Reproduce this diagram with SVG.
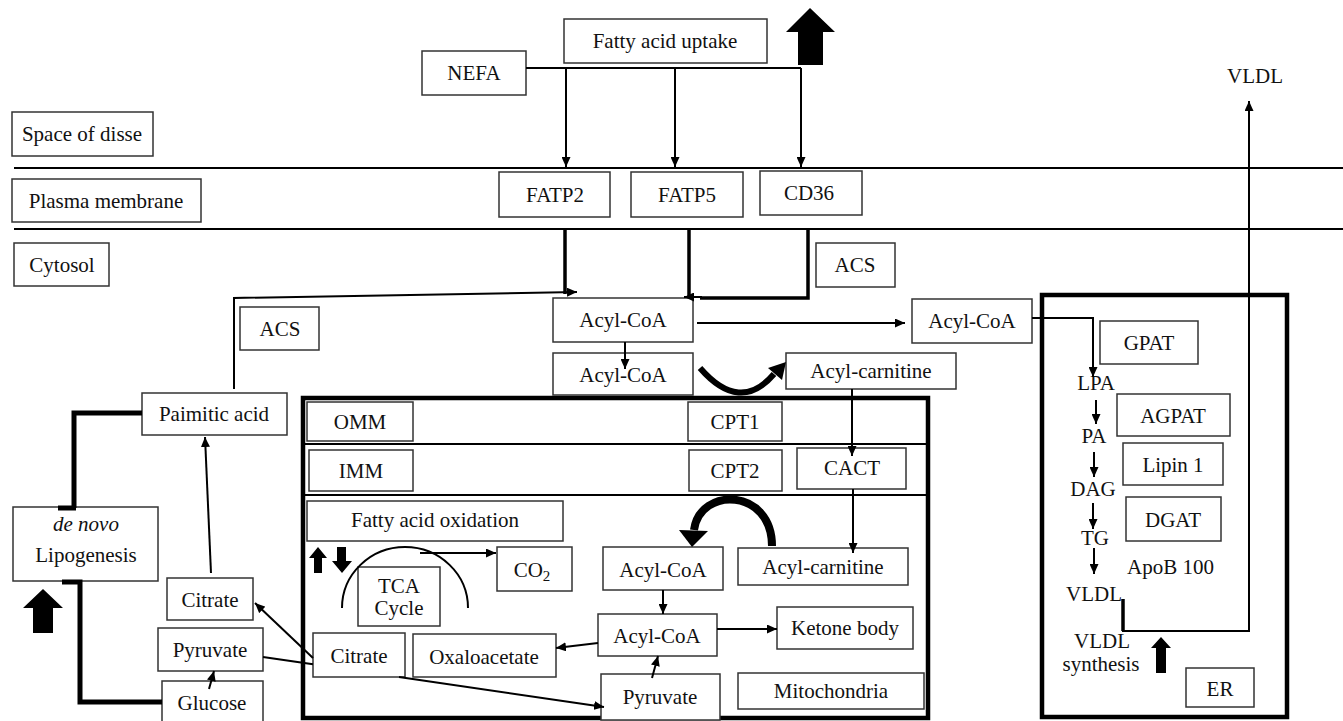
<svg xmlns="http://www.w3.org/2000/svg" width="1343" height="721" viewBox="0 0 1343 721">
<style>
.b{fill:#fff;stroke:#333;stroke-width:1.5}
.t{font-size:21px;fill:#111;text-anchor:middle}
.l{font-size:21px;fill:#111}
.c{fill:none;stroke:#000;stroke-width:2}
.k{fill:none;stroke:#000;stroke-width:3.5}
.h{fill:none;stroke:#000;stroke-width:5}
.f{fill:#000}
</style>
<defs>
<marker id="a" markerUnits="userSpaceOnUse" markerWidth="10" markerHeight="9" refX="10" refY="4.5" orient="auto"><path d="M0,0 L10,4.5 L0,9 z" fill="#000"/></marker>
</defs>
<rect width="1343" height="721" fill="#fff"/>
<g id="membranes">
<line x1="14" y1="168" x2="1343" y2="168" stroke="#000" stroke-width="2"/>
<line x1="14" y1="229" x2="1343" y2="229" stroke="#000" stroke-width="2"/>
</g>
<g id="mitochondria-frame">
<rect x="303" y="398" width="625" height="320" fill="none" stroke="#000" stroke-width="4.5"/>
<line x1="303" y1="444" x2="928" y2="444" stroke="#000" stroke-width="2"/>
<line x1="303" y1="495" x2="928" y2="495" stroke="#000" stroke-width="2"/>
</g>
<g id="er-frame">
<rect x="1042" y="295" width="245" height="422" fill="none" stroke="#000" stroke-width="4.5"/>
</g>
<g id="nodes" font-family="Liberation Serif, Times New Roman, serif">
<g id="space-of-disse"><rect class="b" x="12" y="112" width="141" height="44"/><text class="t" x="82" y="141">Space of disse</text></g>
<g id="plasma-membrane"><rect class="b" x="12" y="179" width="189" height="43"/><text class="t" x="106" y="208">Plasma membrane</text></g>
<g id="cytosol"><rect class="b" x="14" y="243" width="95" height="43"/><text class="t" x="62" y="272">Cytosol</text></g>
<g id="nefa"><rect class="b" x="422" y="51" width="104" height="44"/><text class="t" x="474" y="80">NEFA</text></g>
<g id="fatty-acid-uptake"><rect class="b" x="564" y="19" width="203" height="44"/><text class="t" x="665" y="48">Fatty acid uptake</text></g>
<g id="fatp2"><rect class="b" x="499" y="172" width="111" height="45"/><text class="t" x="555" y="202">FATP2</text></g>
<g id="fatp5"><rect class="b" x="631" y="172" width="112" height="45"/><text class="t" x="687" y="202">FATP5</text></g>
<g id="cd36"><rect class="b" x="760" y="171" width="102" height="44"/><text class="t" x="809" y="200">CD36</text></g>
<g id="acs-top"><rect class="b" x="816" y="243" width="79" height="44"/><text class="t" x="855" y="272">ACS</text></g>
<g id="acs-left"><rect class="b" x="240" y="307" width="79" height="43"/><text class="t" x="280" y="336">ACS</text></g>
<g id="acyl-coa-1"><rect class="b" x="553" y="298" width="140" height="44"/><text class="t" x="623" y="327">Acyl-CoA</text></g>
<g id="acyl-coa-2"><rect class="b" x="553" y="353" width="140" height="42"/><text class="t" x="623" y="382">Acyl-CoA</text></g>
<g id="acyl-coa-er"><rect class="b" x="912" y="299" width="120" height="44"/><text class="t" x="972" y="328">Acyl-CoA</text></g>
<g id="acyl-carnitine-top"><rect class="b" x="786" y="353" width="170" height="36"/><text class="t" x="871" y="378">Acyl-carnitine</text></g>
<g id="paimitic-acid"><rect class="b" x="142" y="393" width="145" height="42"/><text class="t" x="214" y="421">Paimitic acid</text></g>
<g id="omm"><rect class="b" x="307" y="402" width="106" height="39"/><text class="t" x="360" y="429">OMM</text></g>
<g id="cpt1"><rect class="b" x="688" y="402" width="94" height="39"/><text class="t" x="735" y="429">CPT1</text></g>
<g id="imm"><rect class="b" x="309" y="450" width="104" height="41"/><text class="t" x="361" y="478">IMM</text></g>
<g id="cpt2"><rect class="b" x="689" y="450" width="93" height="41"/><text class="t" x="735" y="478">CPT2</text></g>
<g id="cact"><rect class="b" x="797" y="448" width="109" height="41"/><text class="t" x="852" y="475">CACT</text></g>
<g id="fatty-acid-oxidation"><rect class="b" x="307" y="501" width="256" height="40"/><text class="t" x="435" y="527">Fatty acid oxidation</text></g>
<g id="tca-cycle"><rect class="b" x="358" y="567" width="82" height="59"/><text class="t" x="399" y="593">TCA</text><text class="t" x="399" y="615">Cycle</text></g>
<g id="co2"><rect class="b" x="497" y="547" width="75" height="44"/><text class="t" x="532" y="577">CO<tspan font-size="15" dy="4">2</tspan></text></g>
<g id="acyl-coa-mito"><rect class="b" x="603" y="547" width="120" height="43"/><text class="t" x="663" y="577">Acyl-CoA</text></g>
<g id="acyl-carnitine-mito"><rect class="b" x="738" y="548" width="170" height="37"/><text class="t" x="823" y="574">Acyl-carnitine</text></g>
<g id="acyl-coa-mid"><rect class="b" x="598" y="614" width="119" height="42"/><text class="t" x="657" y="643">Acyl-CoA</text></g>
<g id="ketone-body"><rect class="b" x="777" y="607" width="136" height="42"/><text class="t" x="845" y="635">Ketone body</text></g>
<g id="oxaloacetate"><rect class="b" x="413" y="634" width="143" height="43"/><text class="t" x="484" y="664">Oxaloacetate</text></g>
<g id="citrate-mito"><rect class="b" x="313" y="633" width="92" height="44"/><text class="t" x="359" y="663">Citrate</text></g>
<g id="pyruvate-mito"><rect class="b" x="601" y="674" width="119" height="46"/><text class="t" x="660" y="704">Pyruvate</text></g>
<g id="mitochondria"><rect class="b" x="738" y="673" width="186" height="36"/><text class="t" x="831" y="698">Mitochondria</text></g>
<g id="de-novo-lipogenesis"><rect class="b" x="13" y="507" width="145" height="74"/><text class="t" x="86" y="531" font-style="italic">de novo</text><text class="t" x="86" y="562">Lipogenesis</text></g>
<g id="citrate-left"><rect class="b" x="167" y="578" width="86" height="42"/><text class="t" x="210" y="607">Citrate</text></g>
<g id="pyruvate-left"><rect class="b" x="158" y="628" width="105" height="43"/><text class="t" x="210" y="657">Pyruvate</text></g>
<g id="glucose"><rect class="b" x="162" y="681" width="101" height="42"/><text class="t" x="212" y="710">Glucose</text></g>
<g id="gpat"><rect class="b" x="1100" y="321" width="98" height="43"/><text class="t" x="1149" y="350">GPAT</text></g>
<g id="agpat"><rect class="b" x="1117" y="394" width="113" height="42"/><text class="t" x="1173" y="423">AGPAT</text></g>
<g id="lipin1"><rect class="b" x="1123" y="443" width="100" height="42"/><text class="t" x="1173" y="472">Lipin 1</text></g>
<g id="dgat"><rect class="b" x="1126" y="497" width="95" height="44"/><text class="t" x="1173" y="527">DGAT</text></g>
<g id="er"><rect class="b" x="1186" y="668" width="68" height="39"/><text class="t" x="1220" y="696">ER</text></g>
<g id="lpa"><text class="t" x="1096" y="390">LPA</text></g>
<g id="pa"><text class="t" x="1094" y="443">PA</text></g>
<g id="dag"><text class="t" x="1093" y="496">DAG</text></g>
<g id="tg"><text class="t" x="1095" y="545">TG</text></g>
<g id="apob100"><text class="l" x="1127" y="574">ApoB 100</text></g>
<g id="vldl-er"><text class="l" x="1066" y="601">VLDL</text></g>
<g id="vldl-synthesis"><text class="t" x="1102" y="648">VLDL</text><text class="t" x="1101" y="671">synthesis</text></g>
<g id="vldl-top"><text class="t" x="1255" y="83">VLDL</text></g>
</g>
<g id="connectors">
<path class="c" d="M526 68 H801"/>
<path class="c" d="M566 68 V167" marker-end="url(#a)"/>
<path class="c" d="M675 68 V167" marker-end="url(#a)"/>
<path class="c" d="M801 68 V167" marker-end="url(#a)"/>
<path class="k" d="M565 229 V294"/>
<path class="k" d="M689 229 V296"/>
<path class="k" d="M808 229 V298 H700"/>
<path class="c" d="M702 297 H684" marker-end="url(#a)"/>
<path class="c" d="M234 389 V298 L577 292" marker-end="url(#a)"/>
<path class="c" d="M625 342 V369" marker-end="url(#a)"/>
<path class="c" d="M697 323 H905" marker-end="url(#a)"/>
<path class="c" d="M852 389 V456" marker-end="url(#a)"/>
<path class="c" d="M853 489 V553" marker-end="url(#a)"/>
<path class="c" d="M663 590 V614" marker-end="url(#a)"/>
<path class="c" d="M598 643 L556 648" marker-end="url(#a)"/>
<path class="c" d="M717 629 H777" marker-end="url(#a)"/>
<path class="c" d="M652 678 L658 656" marker-end="url(#a)"/>
<path class="c" d="M342 608 A63 61 0 0 1 468 608"/>
<path class="c" d="M420 553 H496" marker-end="url(#a)"/>
<path class="c" d="M313 658 L255 603" marker-end="url(#a)"/>
<path class="c" d="M263 657 L313 664.3"/>
<path class="c" d="M399 677 L604 707" marker-end="url(#a)"/>
<path class="c" d="M209 689 L214 671" marker-end="url(#a)"/>
<path class="c" d="M211 573 L205 437" marker-end="url(#a)"/>
<path class="h" d="M142 413 H74 V508"/>
<path class="h" d="M58 508 H76"/>
<path class="h" d="M62 582 H80 V702 H162"/>
<path class="c" d="M1032 318 H1093 V377" marker-end="url(#a)"/>
<path class="c" d="M1096 400 V424" marker-end="url(#a)"/>
<path class="c" d="M1094 452 V477" marker-end="url(#a)"/>
<path class="c" d="M1093 503 V529" marker-end="url(#a)"/>
<path class="c" d="M1094 548 V574" marker-end="url(#a)"/>
<path class="k" d="M1123 599 V631"/>
<path class="c" d="M1122 631 H1249 V101" marker-end="url(#a)"/>
<path fill="none" stroke="#000" stroke-width="6" d="M700 368 Q740 414 774 374"/>
<polygon class="f" points="786,362 782,380 768,368"/>
<path fill="none" stroke="#000" stroke-width="8" d="M772 546 C772 488 700 486 694 530"/>
<polygon class="f" points="692,547 679,530 708,531"/>
</g>
<g id="big-arrows">
<polygon class="f" points="810,8 835,32 823,32 823,65 798,65 798,32 786,32"/>
<polygon class="f" points="43,589 63,608 53,608 53,633 33,633 33,608 23,608"/>
<polygon class="f" points="1161,637 1171,648 1166,648 1166,673 1156,673 1156,648 1151,648"/>
<polygon class="f" points="318,547 327,558 322,558 322,573 314,573 314,558 309,558"/>
<polygon class="f" points="342,573 352,561 346,561 346,547 337,547 337,561 332,561"/>
</g>
</svg>
